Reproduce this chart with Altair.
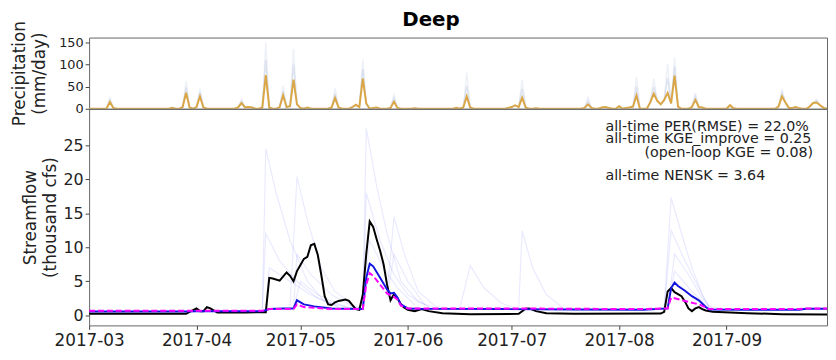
import altair as alt
import pandas as pd

START = pd.Timestamp("2017-03-01")
N_DAYS = 214

# ---------------- precipitation (mm/day): wet days (day offset from 2017-03-01, value)
precip_days = [6, 7, 24, 27, 28, 29, 31, 32, 33, 43, 44, 45, 46, 47, 50, 51, 52, 55, 56, 57,
               58, 59, 60, 61, 63, 70, 71, 72, 76, 77, 78, 79, 80, 82, 83, 87, 88, 89, 94, 106,
               108, 109, 110, 121, 122, 123, 124, 125, 126, 129, 143, 144, 145, 148, 149, 150,
               153, 155, 156, 157, 158, 162, 163, 164, 165, 166, 167, 168, 169, 170, 174, 175,
               176, 177, 185, 186, 199, 200, 201, 202, 203, 204, 205, 208, 209, 210, 211, 212]
precip_vals = [15, 2, 2, 4, 36, 3, 4, 28, 3, 3, 13, 3, 4, 3, 3, 76, 3, 4, 30, 4,
               6, 66, 10, 2, 3, 3, 24, 3, 4, 9, 4, 68, 12, 2, 3, 2, 16, 2, 1, 2,
               3, 28, 3, 2, 4, 8, 4, 25, 3, 1, 2, 10, 2, 3, 4, 2,
               6, 2, 3, 5, 30, 15, 34, 18, 10, 20, 36, 12, 75, 5, 4, 20,
               4, 3, 8, 1, 5, 28, 14, 2, 2, 4, 1, 5, 13, 14, 8, 2]

# faint ensemble envelope of precipitation at the main storm days
ens_peak_days = [6, 28, 32, 44, 51, 56, 59, 71, 79, 88, 109, 125, 144, 158, 163, 167, 169, 175, 200, 210]
ens_hi_vals = [26, 62, 46, 22, 150, 52, 135, 46, 112, 32, 82, 66, 26, 72, 68, 102, 116, 36, 45, 22]
ens_mid_vals = [20, 48, 37, 17, 110, 40, 100, 34, 90, 24, 52, 45, 18, 50, 50, 70, 95, 28, 36, 18]

# ---------------- streamflow (thousand cfs), key points (day offset, value)
obs_days = [0, 28, 29, 31, 32, 33, 34, 35, 37, 45, 51, 52, 53, 55, 57, 58, 59, 60, 61, 62,
            63, 64, 65, 66, 67, 68, 69, 70, 71, 72, 74, 75, 76, 77, 78, 79, 80, 81, 82, 83,
            84, 85, 86, 87, 88, 89, 90, 91, 92, 94, 96, 98, 102, 110, 124, 126, 127, 129, 132, 140,
            165, 166, 167, 168, 169, 171, 172, 173, 174, 175, 176, 177, 178, 180, 190, 200, 213]
obs_vals = [0.2, 0.2, 0.5, 1.0, 0.6, 0.6, 1.2, 1.0, 0.4, 0.4, 0.45, 5.5, 5.4, 5.1, 6.3, 5.8, 5.0, 6.5, 7.4, 8.3,
            8.6, 10.3, 10.5, 8.9, 6.0, 2.8, 1.6, 1.5, 1.9, 2.1, 2.3, 2.1, 1.5, 0.9, 0.8, 3.0, 9.0, 13.8, 13.0, 11.2,
            9.5, 7.5, 4.5, 2.2, 3.1, 2.5, 1.6, 1.1, 0.8, 0.6, 0.9, 0.6, 0.3, 0.15, 0.2, 0.95, 1.0, 0.6, 0.3, 0.2,
            0.25, 0.5, 3.5, 4.0, 3.4, 2.8, 2.0, 1.0, 0.6, 1.0, 1.2, 0.9, 0.7, 0.5, 0.3, 0.15, 0.1]

mean_days = [0, 28, 31, 35, 50, 52, 56, 59, 60, 62, 65, 70, 79, 80, 81, 82, 84, 86, 87, 88,
             89, 90, 92, 95, 120, 140, 160, 167, 168, 169, 170, 172, 174, 176, 178, 179, 190, 205, 207, 213]
mean_vals = [0.55, 0.55, 0.6, 0.6, 0.6, 0.9, 1.0, 1.0, 2.2, 1.6, 1.3, 1.0, 0.9, 5.5, 7.6, 7.2, 5.5, 3.8, 3.2, 3.3,
             2.6, 1.6, 1.0, 0.95, 0.9, 0.85, 0.8, 1.0, 4.0, 4.8, 4.3, 3.6, 2.8, 2.2, 1.2, 0.85, 0.8, 0.8, 0.95, 0.95]

ol_days = [0, 28, 35, 50, 52, 56, 59, 60, 62, 65, 70, 79, 80, 81, 82, 84, 86, 88, 89, 90,
           92, 95, 120, 140, 160, 167, 168, 169, 172, 176, 179, 190, 205, 207, 213]
ol_vals = [0.65, 0.65, 0.65, 0.65, 0.9, 0.9, 0.9, 1.6, 1.2, 1.1, 0.9, 0.9, 4.5, 6.2, 5.8, 4.5, 3.2, 2.7, 2.3, 1.4,
           1.0, 1.0, 1.0, 0.95, 0.9, 1.0, 2.6, 2.5, 2.1, 1.6, 0.9, 0.9, 0.9, 1.0, 1.0]

# faint ensemble members (day offset, value)
ens_members = [
    [(50, 0.9), (51, 24.5), (54, 18), (58, 11), (63, 5), (68, 2), (75, 1.2), (79, 1.0)],
    [(58, 1.2), (60, 20.4), (63, 14), (67, 7), (71, 3.5), (76, 1.5), (79, 1.0)],
    [(50, 0.9), (51, 12), (55, 8), (60, 5), (66, 2.5), (72, 1.3)],
    [(59, 1.0), (60, 9), (64, 6), (70, 3), (76, 1.3)],
    [(51, 0.9), (52, 7), (58, 5), (64, 3), (72, 1.2)],
    [(59, 1.0), (61, 5), (66, 3), (74, 1.2)],
    [(79, 1.0), (80, 27.5), (83, 19), (86, 12), (90, 5), (95, 2), (100, 1.0)],
    [(79, 1.0), (80, 18), (84, 11), (88, 6), (92, 3), (98, 1.2)],
    [(79, 1.0), (81, 11), (85, 7), (89, 4), (94, 1.5)],
    [(86, 3), (88, 14.5), (91, 9), (95, 3.5), (100, 1.3), (105, 1.0)],
    [(86, 2.5), (88, 9), (92, 5), (97, 1.5)],
    [(107, 1.0), (110, 7.3), (114, 4), (119, 1.8), (123, 1.0)],
    [(124, 1.0), (125, 12.4), (128, 7), (132, 3), (137, 1.0)],
    [(166, 0.9), (168, 17.3), (171, 12), (174, 7), (177, 3), (179, 1.2), (185, 0.9)],
    [(166, 0.9), (168, 12.5), (172, 8), (176, 4), (179, 1.0)],
    [(167, 0.9), (169, 9), (173, 6), (177, 2.5), (180, 0.9)],
    [(167, 0.9), (169, 6.5), (174, 3.5), (179, 1.0)],
]

precip_ticks = [0, 50, 100, 150]
flow_ticks = [0, 5, 10, 15, 20, 25]
annotations = ["all-time PER(RMSE) = 22.0%", "all-time KGE_improve = 0.25",
               "(open-loop KGE = 0.08)", "all-time NENSK = 3.64"]


def d2s(d):
    return (START + pd.Timedelta(days=int(d))).strftime("%Y-%m-%d")


# ---------- tables
wet = dict(zip(precip_days, precip_vals))
hi = dict(zip(ens_peak_days, ens_hi_vals))
mid = dict(zip(ens_peak_days, ens_mid_vals))
pr_rows = []
for d in range(N_DAYS):
    v = wet.get(d, 0)
    pr_rows.append({"date": d2s(d), "main": v, "hi": hi.get(d, v), "mid": mid.get(d, v)})
pr_df = pd.DataFrame(pr_rows)

obs_df = pd.DataFrame({"date": [d2s(d) for d in obs_days], "v": obs_vals})
mean_df = pd.DataFrame({"date": [d2s(d) for d in mean_days], "v": mean_vals})
ol_df = pd.DataFrame({"date": [d2s(d) for d in ol_days], "v": ol_vals})
ens_df = pd.DataFrame([{"m": i, "date": d2s(d), "v": v}
                       for i, mem in enumerate(ens_members) for d, v in mem])

FONT = "DejaVu Sans"
xscale = alt.Scale(type="utc",
                   domain=[alt.DateTime(year=2017, month=3, date=1, utc=True),
                           alt.DateTime(year=2017, month=9, date=30, utc=True)])
month_ticks = [alt.DateTime(year=2017, month=m, date=1, utc=True) for m in range(3, 10)]

W = 746

# ---------- top panel
xt = alt.X("date:T", scale=xscale, axis=None)
yt_scale = alt.Scale(domain=[0, 161], nice=False, zero=False)
yt_axis = alt.Axis(values=precip_ticks, title=["Precipitation", "(mm/day)"],
                   labelFontSize=13, titleFontSize=17, titleFontWeight="normal",
                   titlePadding=10, titleLineHeight=20, tickSize=4, labelPadding=2,
                   grid=False, domain=False, labelOverlap=False)


def yt(field):
    return alt.Y(f"{field}:Q", scale=yt_scale, axis=yt_axis)


top = alt.layer(
    alt.Chart(pr_df).mark_line(color="#9fb0d8", opacity=0.18, strokeWidth=1.5, clip=True)
    .encode(x=xt, y=yt("hi")),
    alt.Chart(pr_df).mark_line(color="#a9b6d6", opacity=0.35, strokeWidth=1.5, clip=True)
    .encode(x=xt, y=yt("mid")),
    alt.Chart(pr_df).mark_line(color="#d9a23c", opacity=0.95, strokeWidth=2, clip=True)
    .encode(x=xt, y=yt("main")),
).properties(width=W, height=72)

# ---------- bottom panel
xb = alt.X("date:T", scale=xscale,
           axis=alt.Axis(values=month_ticks, format="%Y-%m", title=None, labelFontSize=17,
                         tickSize=4, labelPadding=3, grid=False, domain=False,
                         labelFlush=False, labelOverlap=False))
yb_scale = alt.Scale(domain=[-1.5, 30.4], nice=False, zero=False)
yb = alt.Y("v:Q", scale=yb_scale,
           axis=alt.Axis(values=flow_ticks, title=["Streamflow", "(thousand cfs)"],
                         labelFontSize=16, titleFontSize=17, titleFontWeight="normal",
                         titlePadding=4, titleLineHeight=20, tickSize=4, labelPadding=2,
                         grid=False, domain=False, labelOverlap=False))

ens_layer = alt.Chart(ens_df).mark_line(color="#5a5aff", opacity=0.13, strokeWidth=1.2, clip=True).encode(
    x=xb, y=yb, detail="m:N")
obs_layer = alt.Chart(obs_df).mark_line(color="black", strokeWidth=2, clip=True).encode(x=xb, y=yb)
mean_layer = alt.Chart(mean_df).mark_line(color="#1515e0", strokeWidth=2, clip=True).encode(x=xb, y=yb)
ol_layer = alt.Chart(ol_df).mark_line(color="#ff00ff", strokeWidth=2, strokeDash=[6, 3], clip=True).encode(x=xb, y=yb)

txt_data = pd.DataFrame({"t": [0]})


def txt(s, x, y, align):
    return alt.Chart(txt_data).mark_text(text=s, align=align, baseline="alphabetic",
                                         fontSize=14.4, font=FONT, color="#222").encode(
        x=alt.value(x), y=alt.value(y))


bottom = alt.layer(
    ens_layer, obs_layer, mean_layer, ol_layer,
    txt(annotations[0], 522, 22, "left"),
    txt(annotations[1], 522, 35, "left"),
    txt(annotations[2], 732, 49, "right"),
    txt(annotations[3], 522, 72, "left"),
).properties(width=W, height=219)

chart = alt.vconcat(top, bottom, spacing=0, bounds="flush").properties(
    title=alt.TitleParams("Deep", fontSize=20, fontWeight="bold", font=FONT, anchor="middle",
                          offset=-10, dx=12),
    padding={"left": 2, "top": 0, "right": 0, "bottom": 0},
).configure(font=FONT).configure_view(stroke="#666", strokeWidth=1).configure_axis(
    labelColor="#222", titleColor="#222", tickColor="#444", labelFont=FONT, titleFont=FONT)

chart.save("out.html", embed_options={"renderer": "svg", "actions": False})
